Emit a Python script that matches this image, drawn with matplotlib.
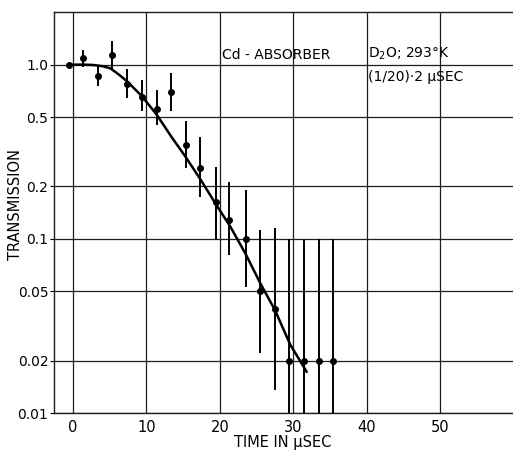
import matplotlib
matplotlib.use("Agg")
import matplotlib.pyplot as plt
import numpy as np

# measured points (time in usec, transmission, error bar limits)
t = [-0.6, 1.3, 3.35, 5.35, 7.4, 9.4, 11.4, 13.4, 15.4, 17.3, 19.45, 21.3,
     23.5, 25.4, 27.5, 29.45, 31.4, 33.5, 35.4]
trans = [1.0, 1.09, 0.865, 1.137, 0.775, 0.652, 0.556, 0.697, 0.346, 0.254,
         0.162, 0.128, 0.1, 0.05, 0.0394, 0.02, 0.02, 0.02, 0.02]
err_lo = [1.0, 0.965, 0.75, 0.936, 0.644, 0.544, 0.448, 0.54, 0.254, 0.174,
          0.098, 0.081, 0.053, 0.022, 0.0136, 0.01, 0.01, 0.01, 0.01]
err_hi = [1.0, 1.22, 0.99, 1.36, 0.948, 0.82, 0.712, 0.896, 0.472, 0.384,
          0.26, 0.213, 0.19, 0.113, 0.115, 0.1, 0.1, 0.1, 0.1]

# fitted curve
curve_t = [-0.6, 1.5, 2.8, 4.0, 5.1, 6.2, 7.4, 9.4, 11.4, 13.5, 15.3, 17.4,
           19.5, 21.4, 23.5, 25.5, 27.5, 29.6, 31.8]
curve_y = [1.0, 1.0, 0.995, 0.98, 0.952, 0.88, 0.80, 0.658, 0.516, 0.38,
           0.297, 0.218, 0.157, 0.118, 0.082, 0.0556, 0.039, 0.0246, 0.0173]

yticks = [0.01, 0.02, 0.05, 0.1, 0.2, 0.5, 1.0]
ylabels = ["0.01", "0.02", "0.05", "0.1", "0.2", "0.5", "1.0"]
xticks = [0, 10, 20, 30, 40, 50]

fig = plt.figure(figsize=(5.13, 4.51), dpi=100)
ax = fig.add_axes([0.105, 0.084, 0.895, 0.889])

ax.set_yscale("log")
ax.set_xlim(-2.6, 59.9)
ax.set_ylim(0.01, 2.0)

ax.set_yticks(yticks)
ax.set_yticklabels(ylabels)
ax.minorticks_off()
ax.set_xticks(xticks)
ax.tick_params(axis="y", length=3, width=0.8, labelsize=10, pad=1)
ax.tick_params(axis="x", length=0, labelsize=10.5, pad=5)

ax.grid(True, color="#1e1e1e", linewidth=0.9)
ax.set_axisbelow(True)
ax.spines["right"].set_visible(False)
for s in ["left", "bottom", "top"]:
    ax.spines[s].set_linewidth(1.0)
    ax.spines[s].set_color("#1e1e1e")

yerr = [np.array(trans) - np.array(err_lo), np.array(err_hi) - np.array(trans)]
ax.errorbar(t, trans, yerr=yerr, fmt="o", color="black", markersize=4,
            elinewidth=1.4, capsize=0, zorder=3)
ax.plot(curve_t, curve_y, color="black", linewidth=1.8, zorder=3)

ax.text(20.3, 1.03, "Cd - ABSORBER", fontsize=10, va="bottom", ha="left")
ax.text(40.2, 1.03, "D$_2$O; 293°K", fontsize=10, va="bottom", ha="left")
ax.text(40.2, 0.93, "(1/20)·2 µSEC", fontsize=10, va="top", ha="left")

fig.text(283 / 513, 8 / 451, "TIME IN µSEC", fontsize=10.5,
         ha="center", va="center")
fig.text(16 / 513, 1 - 205 / 451, "TRANSMISSION", fontsize=10.5,
         rotation=90, ha="center", va="center")

fig.savefig("out.png", dpi=100)
